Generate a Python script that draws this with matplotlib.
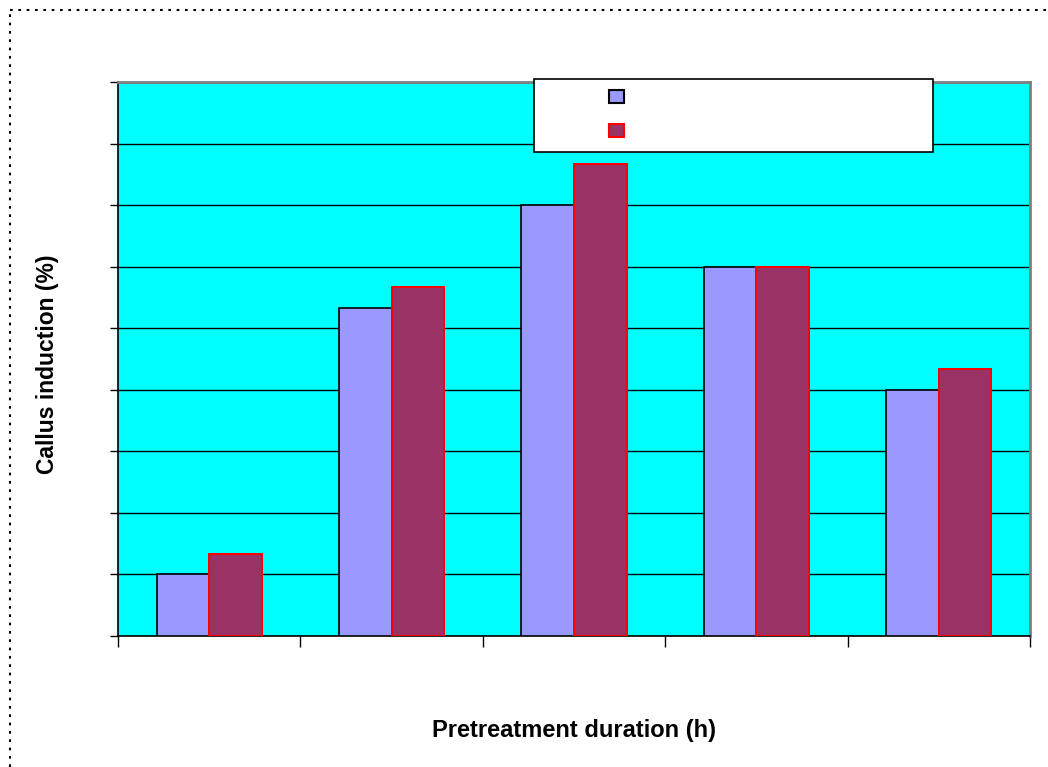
import matplotlib
matplotlib.use("Agg")
import matplotlib.pyplot as plt
from matplotlib.patches import Patch
from matplotlib.lines import Line2D
import numpy as np

plt.rcParams['font.family'] = ['Liberation Sans', 'DejaVu Sans']

# Callus induction (%) for each pretreatment duration, two series
durations = ['', '', '', '', '']
series_a = [10.0, 53.3, 70.0, 60.0, 40.0]
series_b = [13.3, 56.7, 76.7, 60.0, 43.3]
series_names = [' ', ' ']
y_max = 90
y_step = 10

W, H = 1048, 767
fig = plt.figure(figsize=(W / 100, H / 100), dpi=100)
fig.patch.set_facecolor('white')

# plot area in pixels: left 118, right 1030, top 82, bottom 636
ax = fig.add_axes([118 / W, 1 - 636 / H, (1030 - 118) / W, (636 - 82) / H])
ax.set_facecolor('#00FFFF')

x = np.arange(len(durations))
bw = 0.288
ax.bar(x - bw / 2, series_a, width=bw, color='#9999FF', edgecolor='black',
       linewidth=1.2, zorder=3, label=series_names[0])
ax.bar(x + bw / 2, series_b, width=bw, color='#993366', edgecolor='#FF0000',
       linewidth=1.4, zorder=3, label=series_names[1])

ax.set_xlim(-0.5, len(durations) - 0.5)
ax.set_ylim(0, y_max)
ax.set_yticks(np.arange(0, y_max + 1, y_step))
ax.set_yticklabels([])
ax.set_xticks(np.arange(-0.5, len(durations), 1.0))
ax.set_xticklabels([])
ax.tick_params(axis='y', direction='out', length=6, width=1, color='black')
ax.tick_params(axis='x', direction='out', length=8, width=1, color='black')

ax.grid(axis='y', color='black', linewidth=1, zorder=1)
ax.set_axisbelow(True)

ax.spines['left'].set_color('black')
ax.spines['bottom'].set_color('black')
ax.spines['left'].set_linewidth(1.2)
ax.spines['bottom'].set_linewidth(1.2)
ax.spines['top'].set_color('#808080')
ax.spines['right'].set_color('#808080')
ax.spines['top'].set_linewidth(2)
ax.spines['right'].set_linewidth(2)

ax.set_xlabel('Pretreatment duration (h)', fontsize=17, fontweight='bold', va='center')
ax.xaxis.set_label_coords(0.5, -(730 - 636) / (636 - 82))
ax.set_ylabel('Callus induction (%)', fontsize=16.5, fontweight='bold', va='center')
ax.yaxis.set_label_coords(-(118 - 48) / (1030 - 118), 0.49)

# legend box
box = plt.Rectangle((534 / W, 1 - 152 / H), (933 - 534) / W, (152 - 79) / H,
                    transform=fig.transFigure, facecolor='white',
                    edgecolor='black', linewidth=1.2, zorder=5)
fig.patches.append(box)
handles = [Patch(facecolor='#9999FF', edgecolor='black', linewidth=1.5),
           Patch(facecolor='#993366', edgecolor='#FF0000', linewidth=1.5)]
leg = fig.legend(handles, series_names, loc='upper left',
                 bbox_to_anchor=(609 / W, 1 - 90 / H), frameon=False,
                 fontsize=10, handlelength=1.05, handleheight=1.05,
                 labelspacing=1.4, borderpad=0, borderaxespad=0)
leg.set_zorder(6)

# dotted chart border
dots = (0, (1.3, 2.7))
fig.add_artist(Line2D([9.5 / W, 1], [1 - 9.5 / H, 1 - 9.5 / H], transform=fig.transFigure,
                      color='black', linewidth=1.5, linestyle=dots))
fig.add_artist(Line2D([9.5 / W, 9.5 / W], [0, 1 - 9.5 / H], transform=fig.transFigure,
                      color='black', linewidth=1.5, linestyle=dots))

fig.savefig('out.png', dpi=100)
